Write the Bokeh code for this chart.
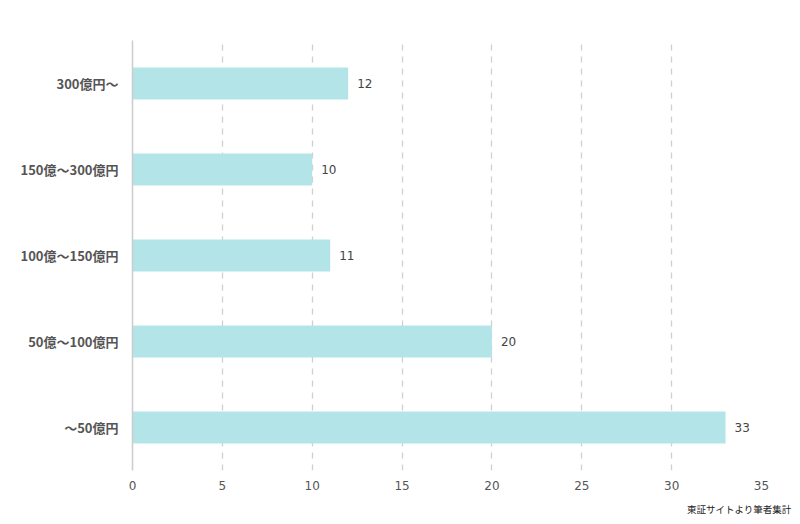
from bokeh.plotting import figure
from bokeh.models import ColumnDataSource, LabelSet, Range1d, FixedTicker, Title
from bokeh.core.properties import value
from bokeh.embed import file_html
from bokeh.resources import INLINE

categories = ["～50億円", "50億～100億円", "100億～150億円", "150億～300億円", "300億円～"]
counts = [33, 20, 11, 10, 12]
x_ticks = [0, 5, 10, 15, 20, 25, 30, 35]

src = ColumnDataSource(dict(cat=categories, n=counts, lbl=[str(v) for v in counts]))

p = figure(y_range=categories, x_range=Range1d(0, 35), width=792, height=524,
           output_backend="svg", toolbar_location=None,
           min_border_left=132, min_border_right=31, min_border_top=40, min_border_bottom=54)
p.hbar(y="cat", right="n", left=0, height=0.37, source=src, color="#b3e5e8", line_color=None)

labels = LabelSet(x="n", y="cat", text="lbl", source=src, x_offset=9, y_offset=0,
                  text_baseline="middle", text_font_size="12px", text_color="#444444",
                  text_font=value("DejaVu Sans"))
p.add_layout(labels)

p.outline_line_color = None
p.ygrid.grid_line_color = None
p.xgrid.ticker = FixedTicker(ticks=x_ticks[1:])
p.xgrid.grid_line_color = "#d0d0d0"
p.xgrid.grid_line_dash = "6 6"
p.xgrid.grid_line_width = 1.3

p.xaxis.ticker = FixedTicker(ticks=x_ticks)
p.xaxis.axis_line_color = None
p.xaxis.major_tick_line_color = None
p.xaxis.minor_tick_line_color = None
p.xaxis.major_label_text_font = "DejaVu Sans"
p.xaxis.major_label_text_font_size = "12px"
p.xaxis.major_label_text_color = "#555555"
p.xaxis.major_label_standoff = 4

p.yaxis.axis_line_color = "#cccccc"
p.yaxis.axis_line_width = 1.5
p.yaxis.major_tick_line_color = None
p.yaxis.minor_tick_line_color = None
p.yaxis.major_label_text_font = "Noto Sans CJK JP"
p.yaxis.major_label_text_font_style = "bold"
p.yaxis.major_label_text_font_size = "13px"
p.yaxis.major_label_text_color = "#555555"
p.yaxis.major_label_standoff = 8

src_title = Title(text="東証サイトより筆者集計", align="right", offset=-30,
                  text_font="Noto Sans CJK JP", text_font_size="9.5px",
                  text_font_style="normal", text_color="#222222", standoff=15)
p.add_layout(src_title, "below")

open("out.html", "w").write(file_html(p, INLINE))
